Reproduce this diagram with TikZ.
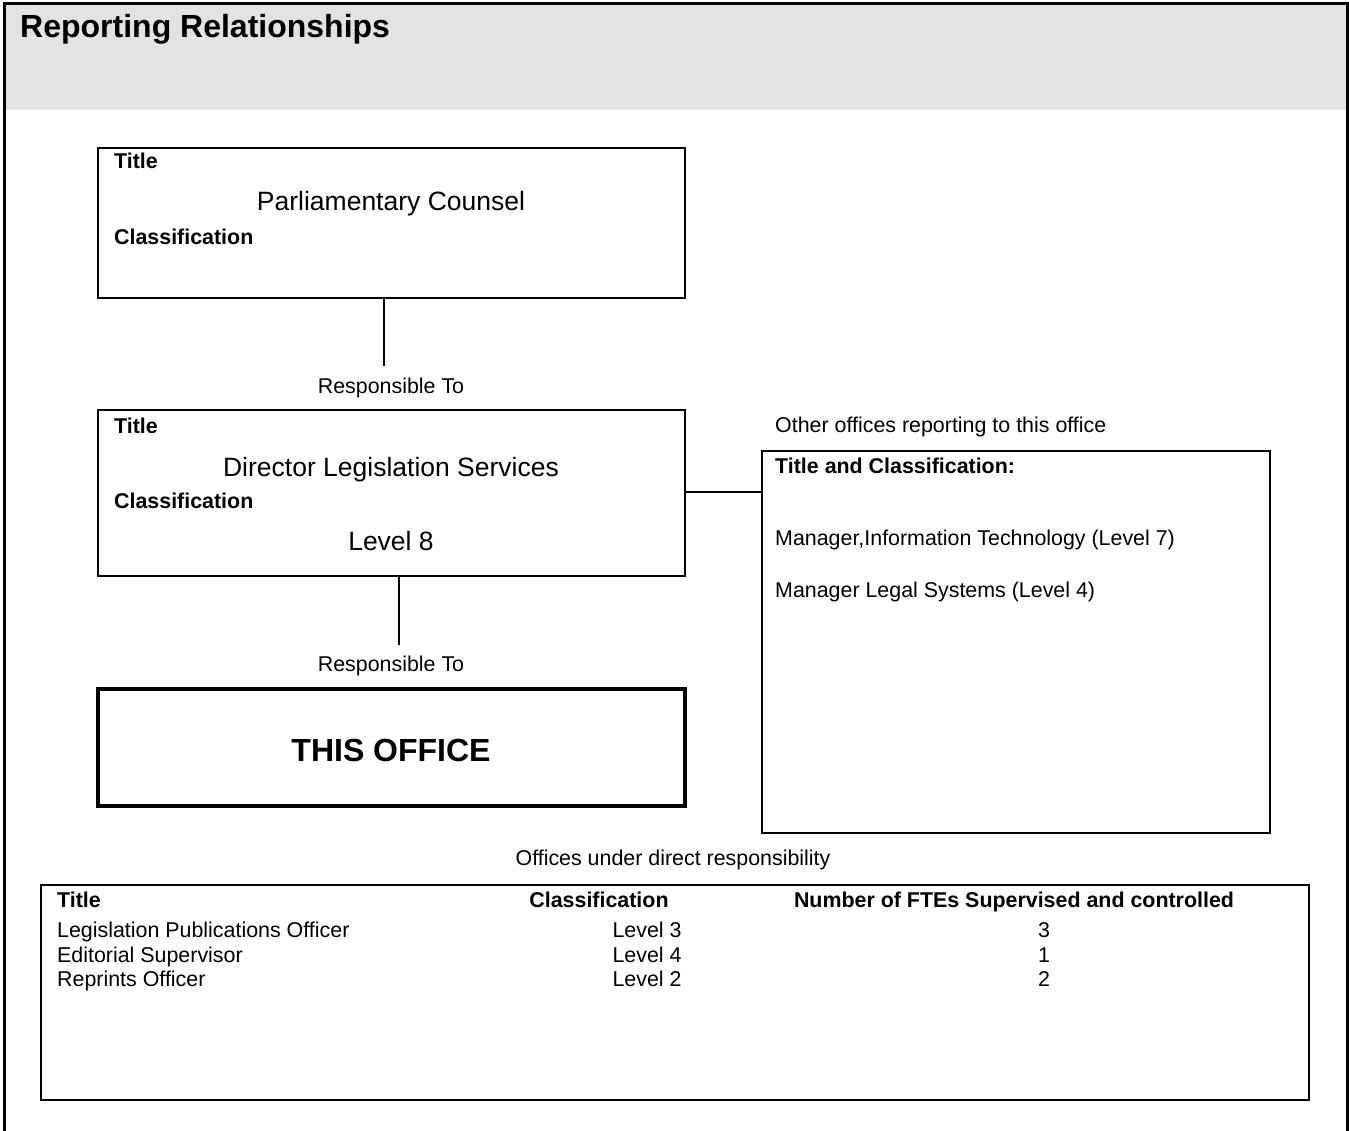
\documentclass[tikz,border=0pt]{standalone}
\usepackage{fontspec}
\setmainfont{Liberation Sans}
\definecolor{hdrgray}{HTML}{E3E3E3}
\begin{document}
\begin{tikzpicture}[x=1pt,y=-1pt,
  txt/.style={inner sep=0pt,font=\fontsize{21.4}{25}\selectfont},
  lbl/.style={inner sep=0pt,font=\fontsize{21.4}{25}\selectfont\bfseries},
  big/.style={inner sep=0pt,font=\fontsize{26.5}{30}\selectfont},
  posbox/.style={draw,line width=2pt,inner sep=0pt,outer sep=0pt,anchor=north west}]
\useasboundingbox (0,0) rectangle (1349,1131);
\fill[hdrgray] (4,4) rectangle (1347,110);
\draw[line width=3pt] (4,1131) -- (4,4) -- (1347,4) -- (1347,1131);
\node[anchor=base west,inner sep=0pt,font=\fontsize{32}{36}\selectfont\bfseries] (heading) at (20,38) {Reporting Relationships};
% boxes
\node[posbox,minimum width=587pt,minimum height=150pt] (counsel) at (98,148) {};
\node[posbox,minimum width=587pt,minimum height=166pt] (director) at (98,410) {};
\node[posbox,line width=4pt,minimum width=587pt,minimum height=117pt] (office) at (98,689) {};
\node[posbox,minimum width=508pt,minimum height=382pt] (others) at (762,451) {};
\node[posbox,minimum width=1268pt,minimum height=215pt] (offices) at (41,885) {};
% top box
\node[lbl,anchor=base west] (t1title) at (114,169) {Title};
\node[big,anchor=base] (t1name) at (391,211) {Parliamentary Counsel};
\node[lbl,anchor=base west] (t1class) at (114,245) {Classification};
\node[txt,anchor=base] (resp1) at (391,393) {Responsible To};
% middle box
\node[lbl,anchor=base west] (t2title) at (114,433) {Title};
\node[big,anchor=base] (t2name) at (391,476) {Director Legislation Services};
\node[lbl,anchor=base west] (t2class) at (114,508) {Classification};
\node[big,anchor=base] (t2level) at (391,550) {Level 8};
\node[txt,anchor=base] (resp2) at (391,671) {Responsible To};
% this office
\node[anchor=base,inner sep=0pt,font=\fontsize{32}{36}\selectfont\bfseries] (thisoffice) at (391,761) {THIS OFFICE};
% other offices
\node[txt,anchor=base west] (othershead) at (775,432) {Other offices reporting to this office};
\node[lbl,anchor=base west] (otherslbl) at (775,473) {Title and Classification:};
\node[txt,anchor=base west] (mgrit) at (775,545) {Manager,Information Technology (Level 7)};
\node[txt,anchor=base west] (mgrlegal) at (775,597) {Manager Legal Systems (Level 4)};
% offices under direct responsibility
\node[txt,anchor=base] (officeshead) at (673,865) {Offices under direct responsibility};
\node[lbl,anchor=base west] (coltitle) at (57,907) {Title};
\node[lbl,anchor=base] (colclass) at (599,907) {Classification};
\node[lbl,anchor=base] (colfte) at (1014,907) {Number of FTEs Supervised and controlled};
\foreach \name/\lev/\num [count=\i] in {Legislation Publications Officer/3/3,Editorial Supervisor/4/1,Reprints Officer/2/2}{
  \node[txt,anchor=base west] (row\i) at (57,913+24.5*\i) {\name};
  \node[txt,anchor=base] (lev\i) at (647,913+24.5*\i) {Level \lev};
  \node[txt,anchor=base] (fte\i) at (1044,913+24.5*\i) {\num};
}
% connectors
\coordinate (end1) at (384,366);
\coordinate (end2) at (399,645);
\coordinate (side) at (0,492);
\draw[line width=2pt] (end1 |- counsel.south) -- (end1);
\draw[line width=2pt] (end2 |- director.south) -- (end2);
\draw[line width=2pt] (director.east |- side) -- (others.west |- side);
\end{tikzpicture}
\end{document}
